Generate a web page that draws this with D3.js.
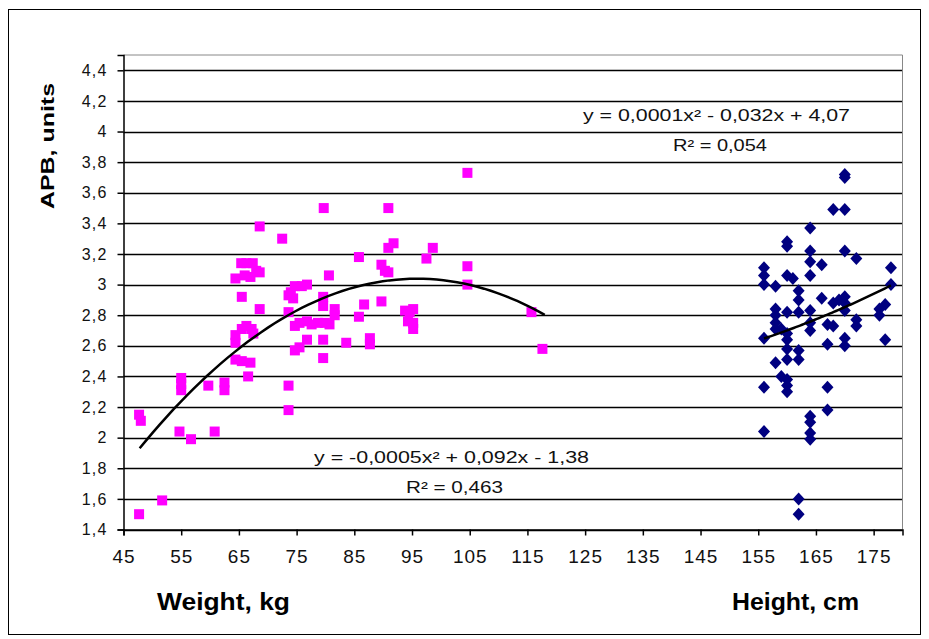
<!DOCTYPE html>
<html>
<head>
<meta charset="utf-8">
<script src="https://cdn.jsdelivr.net/npm/d3@7"></script>
<style>
  body { margin: 0; background: #fff; }
  svg { display: block; font-family: "Liberation Sans", Arial, sans-serif; }
</style>
</head>
<body>
<svg id="graph"></svg>
<script>
// weight (kg) vs APB
var weightPts = [
  [47.7,1.50],[51.7,1.59],[47.7,2.15],[48,2.11],[54.7,2.04],[56.7,1.99],[60.8,2.04],
  [55,2.39],[55,2.35],[55,2.31],[59.7,2.34],[62.5,2.36],[62.5,2.31],
  [64.4,3.04],[65.4,3.14],[66.3,3.14],[67.4,3.14],[68,3.09],[68.6,3.08],[66,3.06],[67,3.05],
  [65.5,2.92],[68.6,2.84],[68.6,3.38],[72.5,3.30],
  [64.4,2.67],[64.4,2.62],[65.5,2.71],[66.3,2.73],[67.2,2.71],[67.5,2.68],
  [64.4,2.51],[65.5,2.50],[67,2.49],[66.6,2.40],[73.6,2.34],[73.6,2.18],
  [73.6,2.93],[74,2.95],[74.7,2.99],[75.9,2.99],[76.8,3.00],[74.4,2.91],[73.6,2.82],
  [74.7,2.73],[75.5,2.75],[76.8,2.76],[77.6,2.74],[78.7,2.75],[79.9,2.75],[80.7,2.74],
  [81.6,2.80],[81.6,2.84],[74.7,2.57],[75.5,2.59],[76.8,2.64],[79.6,2.64],[79.6,2.52],
  [79.7,3.50],[80.6,3.06],[79.6,2.86],[79.6,2.92],[83.6,2.62],[85.8,3.18],[85.8,2.79],
  [86.7,2.87],[87.7,2.65],[87.7,2.61],[89.7,2.89],[89.7,3.13],[90.3,3.09],[90.9,3.08],
  [90.9,3.50],[90.9,3.24],[91.8,3.27],[93.8,2.83],[94.6,2.82],[95.2,2.84],[95.2,2.75],
  [95.2,2.71],[94.3,2.76],[97.5,3.17],[98.6,3.24],[104.6,3.73],[104.6,3.12],[104.6,3.00],
  [115.7,2.82],[117.6,2.58]
];
// height (cm) vs APB
var heightPts = [
  [170,3.72],[170,3.70],[168,3.49],[170,3.49],[164,3.37],[160,3.28],[160,3.25],
  [164,3.22],[170,3.22],[172,3.17],[164,3.15],[166,3.13],[164,3.06],
  [156,3.11],[156,3.06],[156,3.00],[158,2.99],[160,3.06],[161,3.04],
  [162,2.96],[162,2.90],[166,2.91],[168,2.88],[169,2.90],[170,2.92],[170,2.88],[170,2.83],
  [158,2.84],[158,2.80],[158,2.75],[158,2.71],[160,2.82],[162,2.82],[164,2.83],[164,2.75],[164,2.70],
  [159,2.71],[160,2.68],[160,2.64],[160,2.58],[167,2.74],[168,2.73],[167,2.61],
  [170,2.65],[170,2.60],[172,2.77],[172,2.73],[176,2.84],[177,2.87],[176,2.80],[177,2.64],
  [156,2.65],[162,2.57],[162,2.51],[158,2.49],[160,2.51],[159,2.40],[160,2.38],[160,2.34],[160,2.30],
  [156,2.33],[167,2.33],[167,2.18],[164,2.14],[164,2.10],[164,2.03],[164,1.99],
  [156,2.04],[162,1.60],[162,1.50],[178,3.11],[178,3.00]
];
// trend coefficients [a,b,c] and x range, as drawn
var weightTrend = [-0.00048, 0.092, -1.37];
var weightRange = [47.8, 118];
var heightTrend = [0.000143, -0.032, 4.16];
var heightRange = [156, 178];

var xTicks = [45,55,65,75,85,95,105,115,125,135,145,155,165,175];
var yTicks = [1.4,1.6,1.8,2,2.2,2.4,2.6,2.8,3,3.2,3.4,3.6,3.8,4,4.2,4.4];

var width = 929, height = 639;
var svg = d3.select("#graph")
        .attr("width", width)
        .attr("height", height);

// outer frame
svg.append("rect")
   .attr("x", 8.5).attr("y", 9.5)
   .attr("width", 912).attr("height", 625)
   .attr("fill", "#fff")
   .attr("stroke", "#000")
   .attr("stroke-width", 1);

var x = d3.scaleLinear().domain([45,180]).range([123.5, 902.5]);
var y = d3.scaleLinear().domain([1.4,4.5]).range([529.5, 55]);
var fmt = d => (+d.toFixed(1)).toString().replace(".", ",");

// grid
svg.append("g").selectAll("line")
   .data(yTicks)
   .join("line")
   .attr("x1", x(45)).attr("x2", x(180))
   .attr("y1", d => Math.round(y(d)) + 0.5)
   .attr("y2", d => Math.round(y(d)) + 0.5)
   .attr("stroke", "#000")
   .attr("stroke-width", 1.7);

// plot border (top/right)
svg.append("path")
   .attr("d", "M" + x(45) + "," + y(4.5) + "H" + x(180) + "V" + y(1.4))
   .attr("fill", "none")
   .attr("stroke", "#888")
   .attr("stroke-width", 1);

// y axis
var yAxis = svg.append("g")
   .attr("transform", "translate(" + x(45) + ",0)")
   .call(d3.axisLeft(y).tickValues(yTicks).tickFormat(fmt).tickSize(6).tickPadding(10));
yAxis.select(".domain").attr("stroke", "#000").attr("stroke-width", 1.5);
yAxis.selectAll(".tick line").attr("stroke-width", 1.5);
yAxis.selectAll("text")
   .attr("font-size", 16)
   .attr("letter-spacing", 1.2)
   .attr("fill", "#111");

// x axis
var xAxis = svg.append("g")
   .attr("transform", "translate(0," + y(1.4) + ")")
   .call(d3.axisBottom(x).tickValues(xTicks).tickFormat(fmt).tickSize(6).tickPadding(14));
xAxis.select(".domain").attr("stroke", "#000").attr("stroke-width", 1.5);
xAxis.selectAll(".tick line").attr("stroke-width", 1.5);
xAxis.selectAll("text")
   .attr("font-size", 19)
   .attr("letter-spacing", 1)
   .attr("fill", "#111");

// points
svg.append("g").selectAll("rect")
   .data(weightPts)
   .join("rect")
   .attr("x", d => x(d[0]) - 5)
   .attr("y", d => y(d[1]) - 5)
   .attr("width", 10)
   .attr("height", 10)
   .attr("fill", "#f0f");

svg.append("g").selectAll("path")
   .data(heightPts)
   .join("path")
   .attr("transform", d => "translate(" + x(d[0]) + "," + y(d[1]) + ")")
   .attr("d", "M0,-6.5L6,0L0,6.5L-6,0Z")
   .attr("fill", "#000080");

// trend lines
function trend(coef, range){
    var pts = [];
    var step = (range[1] - range[0]) / 60;
    for (var i = 0; i <= 60; i++) {
        var v = range[0] + i * step;
        pts.push([v, coef[0]*v*v + coef[1]*v + coef[2]]);
    }
    return pts;
}
var line = d3.line().x(d => x(d[0])).y(d => y(d[1]));
svg.append("path")
   .attr("d", line(trend(weightTrend, weightRange)))
   .attr("fill", "none")
   .attr("stroke", "#000")
   .attr("stroke-width", 2.5);
svg.append("path")
   .attr("d", line(trend(heightTrend, heightRange)))
   .attr("fill", "none")
   .attr("stroke", "#000")
   .attr("stroke-width", 2.5);

// equation labels
function label(txt, x0, yb, len, size){
    svg.append("text")
       .attr("x", x0).attr("y", yb)
       .attr("font-size", size)
       .attr("fill", "#111")
       .attr("textLength", len)
       .attr("lengthAdjust", "spacingAndGlyphs")
       .text(txt);
}
label("y = 0,0001x\u00b2 - 0,032x + 4,07", 583, 121, 267, 16);
label("R\u00b2 = 0,054", 673, 151, 94, 16);
label("y = -0,0005x\u00b2 + 0,092x - 1,38", 314, 463, 275, 16);
label("R\u00b2 = 0,463", 406, 493, 97, 16);

// axis titles
svg.append("text")
   .attr("transform", "translate(54,146) rotate(-90)")
   .attr("text-anchor", "middle")
   .attr("font-size", 19)
   .attr("font-weight", "bold")
   .attr("textLength", 126)
   .attr("lengthAdjust", "spacingAndGlyphs")
   .text("APB, units");
svg.append("text")
   .attr("x", 157).attr("y", 610)
   .attr("font-size", 24)
   .attr("font-weight", "bold")
   .attr("textLength", 133)
   .attr("lengthAdjust", "spacingAndGlyphs")
   .text("Weight, kg");
svg.append("text")
   .attr("x", 732).attr("y", 610)
   .attr("font-size", 24)
   .attr("font-weight", "bold")
   .attr("textLength", 127)
   .attr("lengthAdjust", "spacingAndGlyphs")
   .text("Height, cm");
</script>
</body>
</html>
